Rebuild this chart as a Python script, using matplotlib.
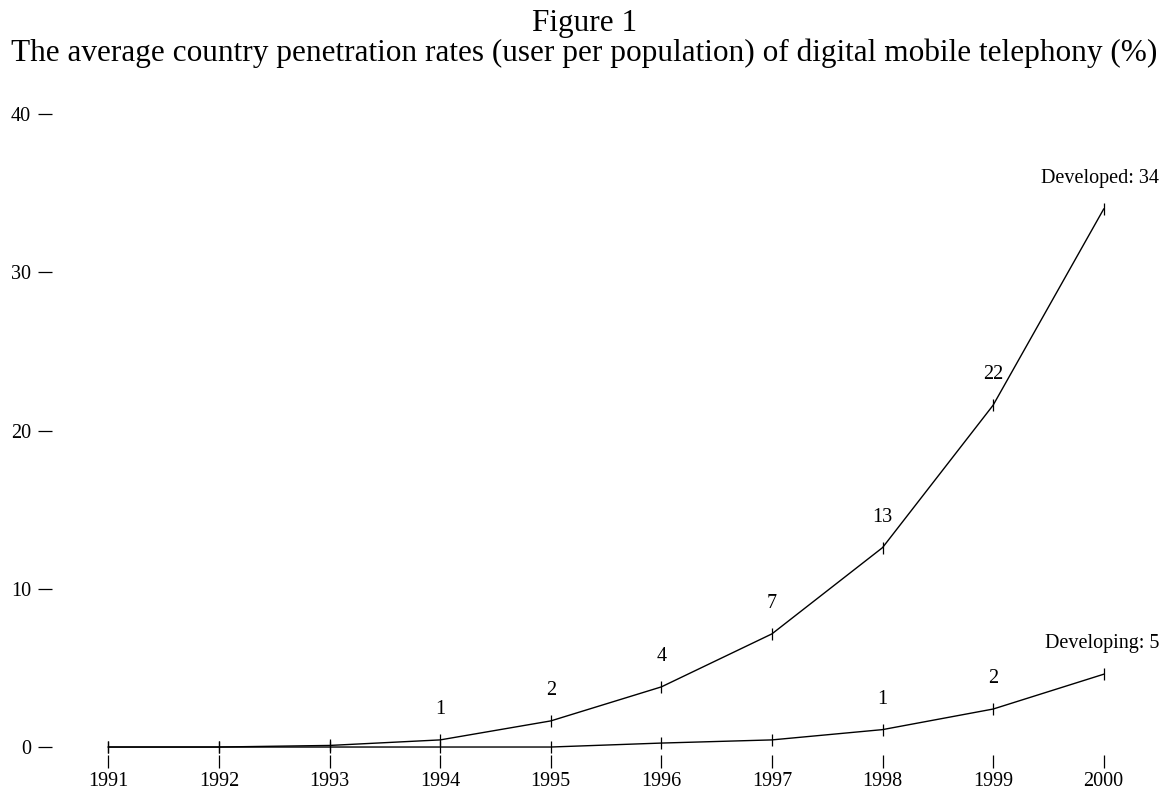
import matplotlib

matplotlib.use("Agg")
import matplotlib.pyplot as plt

years = [1991, 1992, 1993, 1994, 1995, 1996, 1997, 1998, 1999, 2000]
developed = [0.0, 0.0, 0.1, 0.45, 1.65, 3.8, 7.15, 12.6, 21.6, 34.0]
developing = [0.0, 0.0, 0.0, 0.0, 0.0, 0.25, 0.45, 1.1, 2.4, 4.6]
developed_labels = ["", "", "", "1", "2", "4", "7", "13", "22", "Developed: 34"]
developing_labels = ["", "", "", "", "", "", "", "1", "2", "Developing: 5"]
y_ticks = [0, 10, 20, 30, 40]

plt.rcParams["font.family"] = ["Liberation Serif", "DejaVu Serif"]

fig = plt.figure(figsize=(11.69, 7.94), dpi=100)
ax = fig.add_axes([0.0445, 0.0492, 0.928, 0.8131])

for values, labels in [(developed, developed_labels), (developing, developing_labels)]:
    ax.plot(years, values, color="black", linewidth=1.0, marker="|",
            markersize=8, markeredgewidth=0.9)
    for x, y, text in zip(years, values, labels):
        if not text:
            continue
        if text[0].isdigit():
            ax.annotate(text, (x, y), xytext=(0, 22), textcoords="offset points",
                        ha="center", va="center", fontsize=14.5)
        else:
            ax.annotate(text, (x, y), xytext=(40, 22), textcoords="offset points",
                        ha="right", va="center", fontsize=14.5)

ax.set_xlim(1990.49, 2000.3)
ax.set_ylim(-0.5, 40.3)
ax.set_xticks(years)
ax.set_yticks(y_ticks)
for spine in ax.spines.values():
    spine.set_visible(False)
ax.tick_params(axis="x", direction="out", length=9, width=0.9, pad=3, labelsize=14.5)
ax.tick_params(axis="y", direction="out", length=10, width=0.9, pad=5, labelsize=14.5)

fig.text(0.5, 0.970, "Figure 1", ha="center", va="center", fontsize=22.5)
fig.text(0.5, 0.933,
         "The average country penetration rates (user per population) of digital mobile telephony (%)",
         ha="center", va="center", fontsize=22.5)

fig.savefig("out.png", dpi=100)
